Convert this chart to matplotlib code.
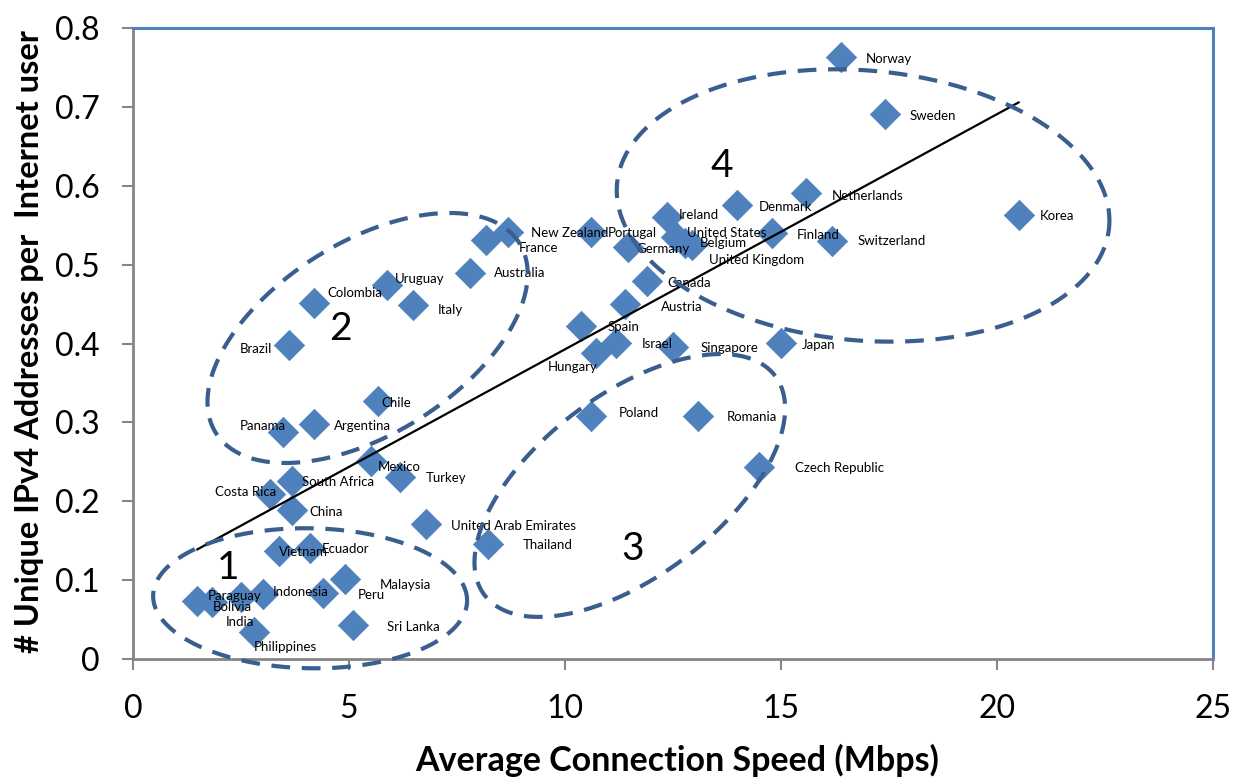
import numpy as np
import matplotlib
matplotlib.use("Agg")
import matplotlib.pyplot as plt

plt.rcParams['font.family'] = ['Lato', 'DejaVu Sans']

countries = ["Paraguay", "Bolivia", "India", "Indonesia", "Philippines", "Vietnam", "Ecuador",
             "Peru", "Malaysia", "Sri Lanka", "China", "Costa Rica", "South Africa", "Mexico",
             "Turkey", "Panama", "Argentina", "Chile", "Brazil", "Colombia", "Uruguay", "Italy",
             "Australia", "France", "New Zealand", "Portugal", "Germany", "Canada", "Austria",
             "Spain", "Hungary", "Israel", "Singapore", "Ireland", "United States", "Belgium",
             "United Kingdom", "Denmark", "Finland", "Netherlands", "Switzerland", "Japan",
             "Norway", "Sweden", "Korea", "Poland", "Romania", "Czech Republic",
             "United Arab Emirates", "Thailand"]
speed = [1.49, 1.82, 2.51, 3.00, 2.79, 3.39, 4.09,
         4.39, 4.90, 5.10, 3.69, 3.18, 3.69, 5.50,
         6.19, 3.48, 4.20, 5.68, 3.60, 4.20, 5.89, 6.47,
         7.79, 8.18, 8.67, 10.61, 11.45, 11.89, 11.40,
         10.38, 10.71, 11.19, 12.49, 12.35, 12.58, 12.95,
         12.77, 13.99, 14.80, 15.59, 16.19, 15.01,
         16.40, 17.40, 20.50, 10.61, 13.09, 14.48,
         6.79, 8.21]
ipv4 = [0.074, 0.072, 0.079, 0.082, 0.034, 0.137, 0.141,
        0.084, 0.101, 0.043, 0.189, 0.209, 0.226, 0.251,
        0.231, 0.288, 0.298, 0.327, 0.398, 0.451, 0.474, 0.449,
        0.490, 0.531, 0.541, 0.541, 0.522, 0.479, 0.450,
        0.422, 0.388, 0.401, 0.395, 0.561, 0.535, 0.525,
        0.527, 0.575, 0.540, 0.591, 0.530, 0.401,
        0.763, 0.691, 0.563, 0.308, 0.308, 0.243,
        0.171, 0.146]

# label offsets in pixels (dx right, dy up) from marker centre to label left/centre
label_offsets = [(10, 5), (1, -5), (-16, -25), (10, 2), (0, -15), (0, -1), (12, -1),
                 (35, -2), (35, -6), (34, -2), (17, -2), (-55, 2), (10, -1), (7, -6),
                 (25, -1), (-44, 6), (20, -2), (3, -2), (-49, -4), (13, 10), (7, 6), (25, -5),
                 (24, 0), (32, -8), (23, -1), (16, -1), (9, -2), (21, -2), (35, -3),
                 (26, -1), (-48, -14), (25, -1), (28, -1), (12, 2), (11, 4), (7, 2),
                 (24, -17), (21, -2), (24, -2), (25, -3), (25, 0), (20, -2),
                 (24, -2), (25, -2), (21, -1), (27, 3), (28, -1), (36, -1),
                 (25, -2), (35, -1)]

x_ticks = [0, 5, 10, 15, 20, 25]
y_ticks = [0, 0.1, 0.2, 0.3, 0.4, 0.5, 0.6, 0.7, 0.8]
y_tick_labels = ["0", "0.1", "0.2", "0.3", "0.4", "0.5", "0.6", "0.7", "0.8"]

# cluster ellipses: (centre x, centre y in data), semi-axes in px, angle deg
ellipses = [((4.10, 0.077), 157, 70, -1),
            ((5.43, 0.407), 179, 96, 32),
            ((11.50, 0.220), 182, 91, 37),
            ((16.90, 0.575), 247, 135, -5)]
cluster_names = ["1", "2", "3", "4"]
cluster_pos = [(2.2, 0.115), (4.8, 0.418), (11.56, 0.14), (13.63, 0.625)]

W, H = 1238, 778
fig = plt.figure(figsize=(W / 100, H / 100), dpi=100)
ax = fig.add_axes([133 / W, (H - 659) / H, (1213 - 133) / W, (659 - 28) / H])
ax.set_xlim(0, 25)
ax.set_ylim(0, 0.8)

blue = "#4F81BD"
ax.scatter(speed, ipv4, marker="D", s=240, color=blue, edgecolors=blue, linewidths=0.5, zorder=3)

# linear trendline
coef = np.polyfit(speed, ipv4, 1)
xs = np.array([min(speed), max(speed)])
ax.plot(xs, np.polyval(coef, xs), color="black", lw=1.6, zorder=4)

for name, x, y, (dx, dy) in zip(countries, speed, ipv4, label_offsets):
    ax.annotate(name, (x, y), xytext=(dx, dy), textcoords="offset pixels",
                ha="left", va="center", fontsize=9.5, color="black", zorder=5)

# ellipses
fig.canvas.draw()
t = np.linspace(0, 2 * np.pi, 400)
for (c, a, b, ang) in ellipses:
    cx, cy = ax.transData.transform(c)
    th = np.deg2rad(ang)
    px = cx + a * np.cos(t) * np.cos(th) - b * np.sin(t) * np.sin(th)
    py = cy + a * np.cos(t) * np.sin(th) + b * np.sin(t) * np.cos(th)
    pts = ax.transData.inverted().transform(np.column_stack([px, py]))
    ax.plot(pts[:, 0], pts[:, 1], color="#3A5F8F", lw=3.0, linestyle=(0, (4.5, 2.8)),
            clip_on=False, zorder=6, solid_capstyle="butt", dash_capstyle="butt")

for name, (x, y) in zip(cluster_names, cluster_pos):
    ax.text(x, y, name, fontsize=28, ha="center", va="center", color="black", zorder=7)

ax.set_xticks(x_ticks)
ax.set_yticks(y_ticks)
ax.set_yticklabels(y_tick_labels)
ax.tick_params(axis="both", direction="out", length=8, width=1.5, color="#868686",
               labelsize=23)
ax.tick_params(axis="y", pad=16)
ax.tick_params(axis="x", pad=17)
for s in ["left", "bottom"]:
    ax.spines[s].set_color("#868686")
    ax.spines[s].set_linewidth(2)
for s in ["top", "right"]:
    ax.spines[s].set_color(blue)
    ax.spines[s].set_linewidth(2.2)

ax.set_xlabel("Average Connection Speed (Mbps)", fontsize=24.5, fontweight="bold")
ax.set_ylabel("# Unique IPv4 Addresses per  Internet user", fontsize=23.5, fontweight="bold")
ax.xaxis.label.set_va("center")
ax.yaxis.label.set_va("center")
ax.xaxis.set_label_coords((677 - 133) / (1213 - 133), -(760 - 659) / (659 - 28))
ax.yaxis.set_label_coords(-(133 - 30) / (1213 - 133), (659 - 342) / (659 - 28))

fig.savefig("out.png", dpi=100)
